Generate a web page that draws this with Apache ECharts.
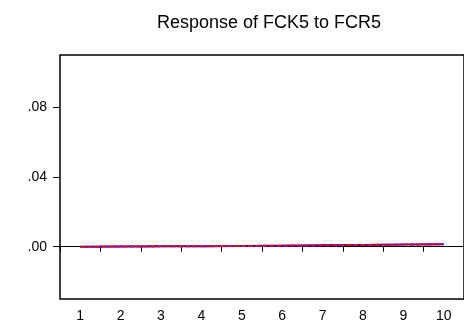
<!DOCTYPE html>
<html>
<head>
<meta charset="utf-8">
<script src="https://cdn.jsdelivr.net/npm/echarts@6/dist/echarts.min.js"></script>
<style>
  html, body { margin: 0; padding: 0; background: #fff; }
  #chart { width: 464px; height: 325px; }
</style>
</head>
<body>
<div id="chart"></div>
<script>
// Impulse response of FCK5 to a shock in FCR5, periods 1..10
const periods = ['1', '2', '3', '4', '5', '6', '7', '8', '9', '10'];
const response = [0.0000, 0.0001, 0.0002, 0.0003, 0.0004, 0.0006, 0.0008, 0.0010, 0.0012, 0.0014];
const responseCheck = [0.0000, 0.0001, 0.0002, 0.0003, 0.0004, 0.0006, 0.0008, 0.0010, 0.0012, 0.0014];
const yTicks = [0, 0.04, 0.08];

const chart = echarts.init(document.getElementById('chart'), null, { renderer: 'canvas' });

const fmt = v => {
  const s = Math.abs(v).toFixed(2).replace(/^0/, '');
  return (v < 0 ? '-' : '') + s;
};

chart.setOption({
  animation: false,
  backgroundColor: '#fff',
  title: {
    text: 'Response of FCK5 to FCR5',
    left: 264,
    textAlign: 'center',
    top: 9,
    textStyle: { fontFamily: 'Liberation Sans', fontSize: 18, fontWeight: 'normal', color: '#000' }
  },
  grid: {
    left: 60, top: 55, width: 407, height: 244,
    show: true, borderColor: '#000', borderWidth: 1.5, backgroundColor: 'transparent'
  },
  xAxis: {
    type: 'category',
    data: periods,
    boundaryGap: true,
    offset: 2,
    axisLine: { show: false },
    axisTick: { show: true, length: 5, lineStyle: { color: '#000', width: 1 } },
    axisLabel: { color: '#000', fontFamily: 'Liberation Sans', fontSize: 14, margin: 8 },
    splitLine: { show: false }
  },
  yAxis: {
    type: 'value',
    min: -0.03,
    max: 0.11,
    axisLine: { show: false },
    axisTick: { show: true, length: 7, customValues: yTicks, lineStyle: { color: '#000', width: 1 } },
    axisLabel: { color: '#000', fontFamily: 'Liberation Sans', fontSize: 14, margin: 13, customValues: yTicks, formatter: fmt },
    splitLine: { show: false }
  },
  series: [
    {
      type: 'line',
      data: response,
      symbol: 'none',
      lineStyle: { color: '#0000ff', width: 2, type: 'solid' },
      z: 3,
      markLine: {
        silent: true,
        symbol: ['none', 'none'],
        label: { show: false },
        lineStyle: { color: '#000', width: 1, type: 'solid' },
        data: [{ yAxis: 0 }],
        z: 1
      }
    },
    {
      type: 'line',
      data: responseCheck,
      symbol: 'none',
      lineStyle: { color: '#ff0000', width: 2, type: [5, 2] },
      z: 4
    }
  ]
});
</script>
</body>
</html>
